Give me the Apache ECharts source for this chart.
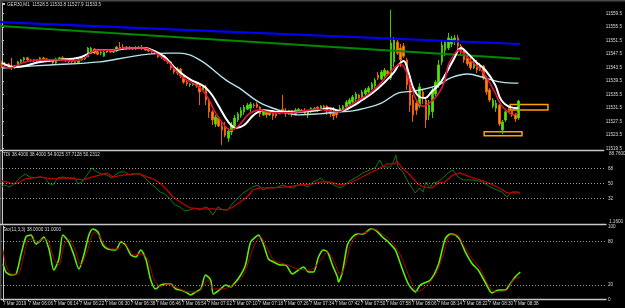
<!DOCTYPE html>
<html>
<head>
<meta charset="utf-8">
<script src="https://cdn.jsdelivr.net/npm/echarts@6/dist/echarts.min.js"></script>
<style>
html,body{margin:0;padding:0;background:#000;}
#chart{width:625px;height:308px;}
</style>
</head>
<body>
<div id="chart"></div>
<script>
// M1 candles, bar index 0 = 05:58
var opens = [
  11544.8,11543.9,11544.5,11543.9,11543.3,11543.9,11545.1,11545.7,11546.3,11545.7,
  11545.4,11545.7,11545.4,11546.3,11546.0,11545.4,11545.7,11544.8,11546.0,11546.3,
  11546.0,11545.4,11545.1,11545.4,11544.8,11545.7,11546.0,11546.6,11548.0,11548.9,
  11548.0,11547.7,11546.8,11548.0,11548.3,11548.0,11548.3,11549.5,11549.5,11549.5,
  11549.2,11548.9,11549.2,11549.2,11549.5,11549.2,11548.6,11548.3,11548.3,11547.7,
  11546.6,11546.8,11545.7,11545.1,11543.3,11541.8,11543.0,11540.9,11539.1,11538.3,
  11538.3,11538.6,11538.0,11536.8,11537.7,11533.8,11530.3,11526.7,11528.5,11526.1,
  11525.8,11522.5,11524.3,11526.1,11527.9,11529.1,11530.3,11531.1,11531.4,11532.3,
  11532.6,11531.7,11529.4,11530.6,11529.4,11530.6,11529.7,11529.7,11531.1,11530.6,
  11529.7,11530.6,11529.7,11530.6,11530.8,11530.8,11529.4,11530.3,11531.1,11531.7,
  11531.1,11532.0,11532.0,11530.8,11530.3,11530.3,11530.3,11531.1,11531.7,11532.6,
  11533.2,11534.1,11535.3,11534.4,11535.6,11536.2,11537.1,11538.0,11541.2,11540.0,
  11540.9,11542.4,11540.3,11545.1,11551.0,11549.2,11549.8,11545.7,11538.3,11533.8,
  11532.9,11532.0,11536.2,11533.8,11529.4,11530.3,11535.6,11538.3,11545.1,11548.6,
  11549.2,11550.4,11551.6,11552.2,11549.8,11548.0,11546.3,11545.1,11543.3,11544.8,
  11542.7,11543.9,11540.3,11536.8,11532.0,11531.4,11532.3,11524.9,11527.9,11530.6,
  11530.6,11529.4,11528.5
];
var closes = [
  11543.9,11544.5,11543.9,11543.3,11543.9,11545.1,11545.7,11546.3,11545.7,11545.4,
  11545.7,11545.4,11546.3,11546.0,11545.4,11545.7,11544.8,11546.0,11546.3,11546.0,
  11545.4,11545.1,11545.4,11544.8,11545.7,11546.0,11546.3,11549.2,11549.2,11547.7,
  11547.4,11548.0,11548.0,11548.3,11548.0,11548.6,11549.5,11549.2,11548.9,11548.9,
  11548.9,11549.2,11548.9,11549.5,11548.9,11548.6,11548.3,11548.0,11547.7,11546.6,
  11546.8,11545.7,11545.1,11543.3,11542.1,11543.0,11540.9,11539.1,11538.6,11538.6,
  11538.6,11538.0,11536.2,11537.7,11533.8,11530.3,11527.9,11528.8,11526.1,11524.9,
  11523.4,11524.6,11526.4,11528.5,11529.7,11530.8,11531.7,11532.3,11532.6,11532.0,
  11531.7,11529.7,11530.6,11529.4,11530.3,11529.1,11529.1,11530.6,11530.6,11529.7,
  11530.6,11529.7,11530.8,11531.1,11530.6,11530.0,11530.6,11531.4,11531.4,11530.8,
  11532.0,11531.7,11530.8,11529.7,11529.1,11529.4,11531.4,11532.0,11533.2,11533.8,
  11534.7,11535.6,11534.4,11536.2,11536.8,11537.4,11538.6,11539.7,11540.3,11542.1,
  11542.7,11541.5,11550.7,11551.6,11547.7,11545.7,11546.8,11538.3,11532.3,11529.4,
  11530.8,11537.7,11534.4,11527.9,11532.3,11536.8,11539.1,11544.2,11550.1,11551.0,
  11552.2,11551.9,11552.2,11549.8,11548.0,11545.7,11544.5,11543.3,11544.8,11542.7,
  11543.9,11540.3,11536.2,11533.8,11533.8,11532.9,11526.7,11527.3,11530.3,11530.3,
  11529.4,11528.2,11533.5
];
var lows = [
  11543.3,11543.6,11543.3,11542.7,11543.0,11543.6,11544.5,11545.1,11545.4,11545.1,
  11545.1,11544.8,11545.1,11545.7,11545.1,11545.1,11544.2,11544.5,11545.4,11545.7,
  11545.1,11544.8,11544.8,11544.5,11544.5,11545.4,11545.7,11546.6,11547.7,11547.4,
  11547.1,11547.1,11546.6,11547.7,11547.7,11547.7,11548.0,11548.9,11548.6,11548.6,
  11548.6,11548.6,11548.6,11548.9,11548.6,11548.3,11548.0,11547.7,11547.4,11546.3,
  11546.0,11545.4,11544.5,11542.7,11541.5,11541.2,11540.3,11538.6,11538.0,11537.7,
  11538.0,11537.4,11532.3,11536.5,11532.3,11528.5,11526.4,11525.8,11525.8,11520.5,
  11522.8,11521.4,11523.4,11524.9,11527.3,11528.5,11529.4,11530.8,11530.3,11531.4,
  11531.4,11528.8,11529.1,11528.5,11529.1,11527.9,11528.5,11529.7,11530.3,11528.8,
  11529.4,11528.8,11529.4,11530.3,11530.0,11529.4,11528.5,11530.0,11530.6,11530.3,
  11530.8,11531.1,11529.4,11528.8,11527.9,11528.5,11530.3,11530.8,11531.4,11532.0,
  11532.6,11533.2,11533.8,11533.8,11535.0,11535.6,11536.8,11537.4,11539.7,11539.7,
  11540.3,11540.9,11539.7,11543.6,11547.1,11543.6,11546.3,11536.8,11530.3,11527.3,
  11529.4,11531.4,11532.6,11525.5,11527.9,11528.5,11535.0,11537.4,11544.2,11546.8,
  11548.6,11549.5,11550.1,11548.6,11547.1,11544.8,11543.9,11542.7,11543.0,11541.8,
  11542.4,11539.7,11535.3,11533.2,11531.4,11530.3,11526.1,11523.7,11527.3,11530.0,
  11528.8,11527.3,11527.9
];
var highs = [
  11545.4,11545.1,11544.8,11546.3,11544.2,11545.4,11546.0,11546.6,11546.6,11546.0,
  11546.0,11546.0,11546.6,11546.6,11546.3,11546.0,11546.0,11546.3,11546.6,11546.8,
  11546.3,11546.0,11545.7,11545.7,11546.0,11546.3,11546.6,11549.5,11549.5,11549.2,
  11548.6,11548.3,11548.3,11548.6,11548.6,11548.9,11549.8,11551.0,11550.4,11549.8,
  11549.8,11549.5,11549.8,11549.8,11550.1,11549.5,11548.9,11548.6,11548.6,11548.0,
  11547.4,11547.1,11546.3,11545.4,11544.2,11543.6,11543.3,11541.2,11539.7,11538.8,
  11538.8,11538.8,11538.6,11538.0,11538.3,11534.4,11530.8,11529.4,11528.8,11527.3,
  11527.3,11525.5,11527.3,11529.4,11530.3,11531.7,11532.3,11532.9,11533.2,11532.9,
  11533.2,11532.0,11530.8,11530.8,11530.6,11530.8,11530.3,11530.8,11535.3,11531.4,
  11530.8,11530.8,11531.4,11531.4,11531.1,11531.4,11530.8,11531.7,11531.7,11532.0,
  11532.3,11532.3,11532.3,11531.4,11531.7,11530.8,11532.3,11532.3,11533.8,11534.4,
  11535.3,11536.2,11535.6,11536.8,11537.4,11538.0,11539.1,11540.3,11542.1,11542.7,
  11543.3,11542.7,11560.5,11552.5,11551.6,11550.4,11550.7,11546.3,11539.7,11535.3,
  11533.8,11538.8,11536.8,11534.4,11533.8,11537.7,11539.7,11545.7,11551.6,11551.6,
  11553.7,11552.8,11553.1,11553.1,11550.4,11548.6,11547.1,11546.3,11545.7,11545.7,
  11544.8,11544.2,11540.9,11537.4,11534.4,11533.8,11532.6,11527.9,11530.8,11531.7,
  11530.8,11530.0,11533.8
];

// moving averages [bar index, price]
var whiteMA = [[0,11544.8],[4,11543.6],[7,11543.9],[12,11545.1],[18,11545.7],[24,11546.3],[27.5,11547.7],[30.6,11548.6],[35,11548.6],[40,11549.2],[44.7,11549.2],[47.8,11548.3],[51,11546.6],[54,11543.6],[57,11541.2],[59.4,11539.7],[62,11538.6],[64,11537.4],[65.9,11535.3],[68,11532.0],[71,11527.3],[73.4,11525.5],[76,11526.4],[79,11529.4],[82,11530.8],[87,11530.3],[93,11530.3],[99,11530.8],[102.5,11531.4],[106,11530.6],[110,11532.0],[113,11533.8],[116.6,11536.2],[119.7,11538.8],[123,11542.1],[124.4,11544.2],[126,11545.4],[127.5,11542.1],[129,11537.4],[131,11534.7],[132.8,11534.4],[134.7,11536.2],[137,11538.3],[139,11541.2],[141.6,11545.7],[144,11549.2],[146,11547.7],[148.7,11545.1],[151.6,11542.7],[154.7,11538.3],[156.6,11533.8],[159.4,11531.7],[161.9,11531.4]];
var redMA = [[0,11543.9],[2.5,11543.3],[5.6,11544.5],[8.75,11545.4],[13.4,11545.7],[18,11545.7],[22.8,11545.4],[26,11546.3],[28,11548.0],[30.6,11548.6],[35,11548.6],[38.4,11549.2],[44.7,11549.2],[47.8,11548.0],[50,11546.6],[52.5,11544.8],[55,11542.1],[57,11540.3],[60.3,11538.6],[62.8,11536.8],[65,11533.8],[67,11530.0],[69.7,11526.4],[71.9,11524.9],[74.4,11526.4],[77.5,11529.7],[80.6,11530.8],[85.3,11530.0],[90,11530.0],[94.7,11530.6],[99.4,11531.1],[102.5,11530.6],[105.6,11530.3],[108.75,11532.0],[111.9,11533.8],[115,11535.6],[118,11538.0],[121,11541.2],[123.4,11543.6],[125,11544.5],[126.6,11542.7],[128.1,11538.3],[130,11533.8],[131.9,11532.0],[134,11532.9],[136.6,11535.3],[138.75,11539.1],[140,11544.2],[141.9,11547.4],[143.4,11548.6],[145.3,11547.1],[147.8,11544.8],[150.3,11542.7],[152.5,11539.7],[154.7,11535.9],[156.6,11532.3],[158.75,11530.3],[160.3,11529.4],[161.9,11530.0]];
var slowMA = [[0,11543.3],[15,11544.2],[30.6,11545.1],[40,11546.6],[46,11547.4],[52.5,11547.7],[55.6,11547.7],[62,11545.7],[70.3,11539.7],[74.4,11537.4],[80.6,11533.2],[86.9,11530.8],[93,11529.4],[99.4,11529.7],[105.6,11530.3],[110,11530.6],[114,11531.4],[119,11532.9],[124.4,11535.9],[129.7,11536.5],[137,11538.3],[140.6,11540.3],[146,11541.5],[151.6,11540.3],[156.6,11539.1],[162,11538.8]];

// trend lines and zones
var blueTrend = [[-0.6,11556.9],[162.5,11550.4]];
var greenTrend = [[-0.6,11555.7],[162.5,11546.0]];
var zoneBoxes = [[159.4,11532.5,171.25,11530.85],[151.25,11524.4,163.1,11523.2]];

// TDI
var tdiGreen = [[0,45.9],[0.9,48.0],[2.5,45.6],[4.1,50.4],[5.6,56.4],[7.2,61.2],[8.75,57.6],[10.3,56.4],[11.9,57.6],[13.4,56.4],[15,49.2],[15.9,48.0],[17.5,56.4],[19.1,57.6],[20.6,56.4],[22.8,56.4],[23.75,49.2],[25,51.6],[26.6,59.9],[28.1,68.4],[29.7,63.6],[31.25,61.2],[32.8,59.9],[34.4,56.4],[35.3,59.9],[36.9,63.6],[38.4,63.6],[40,59.9],[41.6,61.2],[43.1,61.2],[44.7,56.4],[46.25,50.4],[47.8,45.6],[49.4,39.6],[50.9,37.2],[52.5,31.2],[54.1,24.0],[55.6,21.6],[57.2,16.8],[58.75,18.0],[60.3,20.4],[61.9,18.0],[63.4,21.6],[64.4,20.4],[65.9,12.0],[67.5,21.6],[69.1,18.0],[70.6,18.0],[72.2,26.4],[73.75,32.4],[75.3,38.4],[76.9,42.0],[78.4,45.6],[80,48.0],[81.6,42.0],[83.1,44.4],[84.7,44.4],[86.25,45.6],[87.8,48.0],[89.4,45.6],[90.9,44.4],[92.5,48.0],[94.1,48.0],[95.6,45.6],[97.2,51.6],[98.75,54.0],[99.4,56.4],[101,51.6],[102.5,50.4],[105.6,44.4],[107.2,48.0],[108.75,52.8],[110.9,57.6],[112.8,62.4],[115,66.0],[116.6,68.4],[118.1,78.0],[119.1,69.6],[121.25,69.6],[122.2,74.4],[123.1,83.9],[123.75,69.6],[125.3,63.6],[126.9,51.6],[129.1,38.4],[130.6,44.4],[131.6,39.6],[132.5,51.6],[133.75,44.4],[134.7,50.4],[136.25,51.6],[137.8,56.4],[139.4,62.4],[140.9,66.0],[142.5,57.6],[144.1,54.0],[147.2,54.0],[150.3,51.6],[152.5,45.6],[154.7,42.0],[156.25,39.6],[157.8,33.6],[159.4,39.6],[161.25,39.6],[161.9,38.4]];
var tdiRed = [[0,52.8],[2.5,50.4],[4.1,49.2],[5.6,51.6],[7.2,55.2],[9.7,56.4],[11.9,57.6],[13.4,56.4],[15.9,55.2],[19.1,56.4],[22.8,55.2],[25.3,54.0],[28.4,57.6],[30.6,59.9],[32.8,62.4],[34.7,57.6],[37.8,59.9],[40.9,61.2],[43.1,61.2],[45.3,57.6],[47.2,55.2],[49.4,50.4],[51.6,42.0],[53.4,33.6],[56.25,26.4],[58.75,20.4],[61.9,19.2],[65.9,19.2],[70.3,18.0],[72.2,21.6],[74.4,27.6],[76.6,33.6],[78.4,42.0],[80.6,44.4],[84.7,44.4],[89.1,45.6],[93.1,48.0],[97.2,49.2],[99.4,51.6],[102.5,51.6],[105.6,48.0],[108.75,50.4],[111.9,56.4],[115,62.4],[118.1,68.4],[120.3,73.2],[122.8,73.2],[123.4,76.8],[125,68.4],[126.9,62.4],[129.7,50.4],[131.6,45.6],[134.4,44.4],[136.25,50.4],[138.4,51.6],[140.9,59.9],[143.1,62.4],[146.25,57.6],[150.3,52.8],[153.4,48.0],[156.6,42.0],[157.8,38.4],[161.9,38.4]];
var tdiLevels = [32, 50, 68];
var tdiMin = 1.16, tdiMax = 88.76;

// Stochastic (11,3,3)
var stoMain = [[0,49.5],[0.9,38.0],[2.5,33.8],[4.1,35.2],[5.6,61.5],[7.2,86.5],[8.75,89.2],[10.3,76.8],[11.9,82.3],[12.8,86.5],[14.4,69.8],[15.9,40.7],[17.5,56.0],[18.75,89.2],[20.6,79.5],[22.2,61.5],[23.75,42.1],[25.3,61.5],[26.9,89.2],[28.1,97.6],[29.7,93.4],[31.25,75.4],[32.8,69.8],[35.3,68.5],[36.9,79.5],[38.4,75.4],[40,61.5],[41.6,58.8],[43.1,68.5],[44.7,56.0],[46.25,26.9],[47.8,14.4],[49.4,19.9],[50.9,21.3],[52.5,21.3],[54.1,14.4],[55.6,13.0],[57.2,10.3],[58.75,6.1],[60.3,10.3],[61.9,14.4],[63.4,33.8],[65,26.9],[65.9,7.5],[68.1,14.4],[69.7,19.9],[71.25,17.2],[72.8,24.1],[74.4,33.8],[75.9,47.7],[77.5,79.5],[79.1,86.5],[80,89.2],[81.6,75.4],[83.1,56.0],[84.7,51.8],[86.9,47.7],[88.4,47.7],[90.6,35.2],[92.5,40.7],[94.1,44.9],[95.6,38.0],[97.2,38.0],[98.75,58.8],[100.3,68.5],[101.6,65.7],[103.1,47.7],[104.7,31.0],[105,24.1],[106.25,38.0],[107.8,75.4],[109.4,86.5],[110.9,90.6],[112.8,90.6],[115,97.6],[116.6,96.2],[118.75,86.5],[120.6,79.5],[122.8,68.5],[125,42.1],[126.9,21.3],[129.1,10.3],[130.6,19.9],[133.75,26.9],[136.25,47.7],[138.4,83.7],[140,90.6],[141.6,89.2],[143.1,82.3],[144.7,65.7],[146.9,49.1],[148.75,40.7],[150.9,24.1],[153.1,8.9],[155,13.0],[157.2,13.0],[158.75,21.3],[160.3,31.0],[161.9,38.0]];
var stoSignal = [[0,68.5],[0.9,47.7],[2.5,35.2],[4.7,35.2],[6.25,56.0],[7.8,82.3],[9.4,83.7],[10.9,79.5],[12.5,83.7],[14.1,82.3],[15.9,56.0],[17.5,47.7],[19.1,75.4],[20.6,83.7],[22.2,72.6],[24.4,47.7],[26.6,69.8],[28.4,93.4],[30,89.2],[31.6,76.8],[33.75,69.8],[36.25,69.8],[37.8,79.5],[39.4,69.8],[40.9,61.5],[43.1,62.9],[45.3,56.0],[47.2,28.3],[49.4,17.2],[51.6,21.3],[54.1,17.2],[57.8,10.3],[60.9,10.3],[64.1,26.9],[65.9,14.4],[68.75,14.4],[72.2,19.9],[75.3,33.8],[78.4,72.6],[80.6,86.5],[82.8,69.8],[84.7,54.6],[89.1,47.7],[92.2,42.1],[96.25,40.7],[99.4,54.6],[101.6,65.7],[103.4,54.6],[105.6,33.8],[107.2,47.7],[108.75,75.4],[110.9,89.2],[114.1,93.4],[116,97.6],[118.75,90.6],[121.25,82.3],[124.4,61.5],[126.9,33.8],[129.7,10.3],[132.2,17.2],[135.3,33.8],[137.8,61.5],[140,89.2],[142.2,89.2],[144.1,75.4],[146.9,56.0],[149.4,42.1],[151.9,19.9],[154.1,10.3],[157.8,13.0],[159.7,26.9],[161.9,31.0]];
var stoLevels = [20, 80];
var stoTicks = [0, 20, 80, 100];

var priceTicks = [11519.5,11523.5,11527.5,11531.5,11535.5,11539.5,11543.5,11547.5,11551.5,11555.5,11559.5];
var timeTickIdx = [0,8,16,24,32,40,48,56,64,72,80,88,96,104,112,120,128,136,144,152,160];
var timeLabels = ['7 Mar 2019','7 Mar 06:06','7 Mar 06:14','7 Mar 06:22','7 Mar 06:30','7 Mar 06:38','7 Mar 06:46','7 Mar 06:54','7 Mar 07:02','7 Mar 07:10','7 Mar 07:18','7 Mar 07:26','7 Mar 07:34','7 Mar 07:42','7 Mar 07:50','7 Mar 07:58','7 Mar 08:06','7 Mar 08:14','7 Mar 08:22','7 Mar 08:30','7 Mar 08:38'];

var symbol = 'GER30,M1';

var chart = echarts.init(document.getElementById('chart'));
var FONT = 'Liberation Sans';
var AXC = '#C8C8C8';
var TXT = '#D8D8D8';
var FS = 4.6;
var last = closes.length - 1;

var candles = opens.map(function (o, i) {
  return [i, o, closes[i], lows[i], highs[i]];
});

function xAx(k) {
  return {
    type: 'value', gridIndex: k, min: -0.6, max: 188.75,
    axisLine: { show: true, onZero: false, lineStyle: { color: AXC, width: 1.3 } },
    axisTick: { show: k === 2, customValues: timeTickIdx, length: 2, lineStyle: { color: AXC } },
    axisLabel: k === 2 ? {
      show: true, customValues: timeTickIdx, align: 'left', margin: 2,
      color: TXT, fontSize: FS, fontFamily: FONT,
      formatter: function (v) { return timeLabels[timeTickIdx.indexOf(v)]; }
    } : { show: false },
    splitLine: { show: false }
  };
}
function yAx(k, min, max, ticks, fmt) {
  return {
    type: 'value', gridIndex: k, position: 'right', min: min, max: max, scale: true,
    axisLine: { show: true, lineStyle: { color: AXC, width: 1 } },
    axisTick: { show: true, customValues: ticks, length: 2, lineStyle: { color: AXC } },
    axisLabel: { show: true, customValues: ticks, margin: 2, color: TXT, fontSize: FS, fontFamily: FONT, formatter: fmt },
    splitLine: { show: false }
  };
}
function line(data, k, color, width, smooth) {
  return {
    type: 'line', xAxisIndex: k, yAxisIndex: k, data: data, symbol: 'none',
    smooth: smooth, lineStyle: { color: color, width: width }, silent: true, z: 3
  };
}
function levels(vals) {
  return {
    silent: true, symbol: 'none', label: { show: false },
    lineStyle: { color: '#9A9A9A', type: [1, 2], width: 1 },
    data: vals.map(function (v) { return { yAxis: v }; })
  };
}

var tdiG = line(tdiGreen, 1, '#0A7A0A', 1, false);
tdiG.markLine = levels(tdiLevels);
var stoG = line(stoMain, 2, '#5CF000', 1.6, 0.25);
stoG.markLine = levels(stoLevels);

var option = {
  animation: false,
  backgroundColor: '#000000',
  grid: [
    { left: 0, right: 19, top: 3, height: 147 },
    { left: 0, right: 19, top: 151, height: 73 },
    { left: 0, right: 19, top: 226, height: 73.4 }
  ],
  xAxis: [xAx(0), xAx(1), xAx(2)],
  yAxis: [
    yAx(0, 11519.0, 11562.55, priceTicks, function (v) { return v.toFixed(1); }),
    yAx(1, tdiMin, tdiMax, tdiLevels, function (v) { return String(v); }),
    yAx(2, 0, 101.7, stoTicks, function (v) { return String(v); })
  ],
  graphic: [
    { type: 'rect', left: 0, top: 0, shape: { width: 625, height: 1.5 }, style: { fill: '#4A4A4A' }, silent: true },
    { type: 'rect', left: 0, top: 0, shape: { width: 1.5, height: 300 }, style: { fill: '#4A4A4A' }, silent: true },
    { type: 'rect', left: 3, top: 3, shape: { width: 2, height: 2 }, style: { fill: '#C8C8C8' }, silent: true },
    { type: 'text', left: 7, top: 2, silent: true, style: { text: symbol + '  ' + opens[last].toFixed(1) + ' ' + highs[last].toFixed(1) + ' ' + lows[last].toFixed(1) + ' ' + closes[last].toFixed(1), fill: TXT, font: FS + 'px ' + FONT } },
    { type: 'text', left: 3, top: 152, silent: true, style: { text: 'TDI ' + tdiGreen[tdiGreen.length - 1][1].toFixed(4) + ' ' + tdiRed[tdiRed.length - 1][1].toFixed(4) + ' 54.9025 37.7128 50.2312', fill: TXT, font: FS + 'px ' + FONT } },
    { type: 'text', left: 3, top: 227, silent: true, style: { text: 'Sto(11,3,3) ' + stoMain[stoMain.length - 1][1].toFixed(4) + ' ' + stoSignal[stoSignal.length - 1][1].toFixed(4), fill: TXT, font: FS + 'px ' + FONT } },
    { type: 'text', left: 609, top: 151.5, silent: true, style: { text: tdiMax.toFixed(4), fill: TXT, font: FS + 'px ' + FONT } },
    { type: 'text', left: 609, top: 219.5, silent: true, style: { text: tdiMin.toFixed(4), fill: TXT, font: FS + 'px ' + FONT } }
  ],
  series: [
    line(blueTrend, 0, '#0000FF', 2.2, false),
    line(greenTrend, 0, '#008A00', 2, false),
    {
      type: 'candlestick', xAxisIndex: 0, yAxisIndex: 0, data: candles,
      encode: { x: 0, y: [1, 2, 3, 4] }, barWidth: 2, silent: true, z: 2,
      itemStyle: { color: '#55E600', color0: '#FF8C00', borderColor: '#46C800', borderColor0: '#F06000', borderWidth: 1 },
      markArea: {
        silent: true,
        itemStyle: { color: 'rgba(0,0,0,0)', borderColor: '#FFA200', borderWidth: 1.5 },
        data: zoneBoxes.map(function (b) { return [{ coord: [b[0], b[1]] }, { coord: [b[2], b[3]] }]; })
      },
      markLine: {
        silent: true, symbol: 'none',
        lineStyle: { opacity: 0 },
        label: {
          show: true, position: 'end', distance: 1, formatter: closes[last].toFixed(1),
          backgroundColor: '#E6E6E6', color: '#000', fontSize: FS, fontFamily: FONT, padding: [1, 1, 0, 1]
        },
        data: [{ yAxis: closes[last] }]
      }
    },
    line(slowMA, 0, '#B4E4EC', 1.4, 0.4),
    line(whiteMA, 0, '#FFFFFF', 2, 0.4),
    line(redMA, 0, '#E0173C', 1.6, 0.4),
    tdiG,
    line(tdiRed, 1, '#C00000', 1.3, false),
    stoG,
    line(stoSignal, 2, '#B00000', 1, 0.25)
  ]
};
chart.setOption(option);
</script>
</body>
</html>
